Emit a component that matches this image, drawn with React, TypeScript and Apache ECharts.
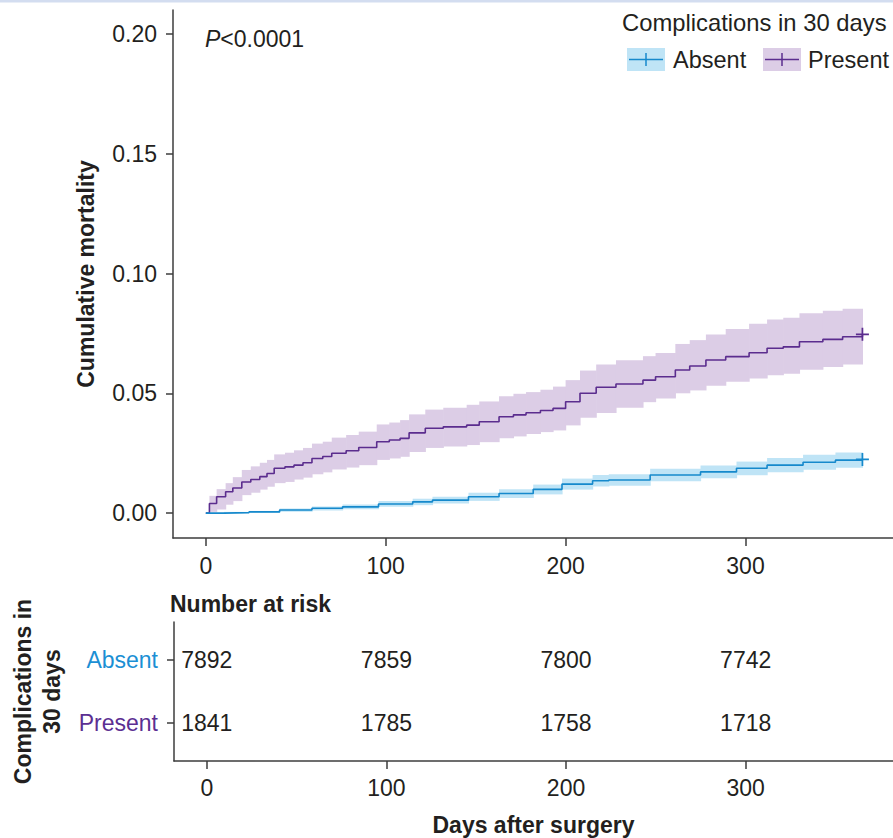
import React, { useEffect, useRef } from "react";
import * as echarts from "echarts";

// ---------- data ----------
const presentDays = [0, 2, 6, 11, 15, 20, 25, 30, 34, 38, 44, 49, 54, 59, 65, 70, 78, 85, 95, 102, 108, 113, 122, 132, 145, 152, 163, 171, 178, 186, 193, 200, 208, 217, 228, 243, 250, 261, 269, 278, 289, 302, 312, 321, 330, 343, 354, 365];
const presentEst = [0, 0.004, 0.0068, 0.0089, 0.0105, 0.013, 0.014, 0.0152, 0.0165, 0.0187, 0.0193, 0.02, 0.021, 0.0228, 0.0236, 0.025, 0.026, 0.0274, 0.0298, 0.0305, 0.0312, 0.0335, 0.0354, 0.036, 0.0367, 0.0381, 0.0402, 0.041, 0.0419, 0.0428, 0.0437, 0.0465, 0.05, 0.0525, 0.0539, 0.0555, 0.0569, 0.0597, 0.0614, 0.0639, 0.0653, 0.0669, 0.0688, 0.0694, 0.0715, 0.0725, 0.0736, 0.0746];
const presentLo = [0, 0.0005, 0.0015, 0.0035, 0.005, 0.0075, 0.0085, 0.0098, 0.011, 0.0125, 0.013, 0.014, 0.0148, 0.0162, 0.017, 0.0182, 0.019, 0.02, 0.0222, 0.0228, 0.0235, 0.0255, 0.0272, 0.0278, 0.0284, 0.0296, 0.0312, 0.032, 0.033, 0.0338, 0.0345, 0.0366, 0.0398, 0.0418, 0.044, 0.0463, 0.0478, 0.05, 0.0512, 0.0532, 0.0548, 0.0562, 0.0575, 0.0582, 0.0598, 0.061, 0.062, 0.0627];
const presentHi = [0, 0.0072, 0.01, 0.0125, 0.015, 0.018, 0.0195, 0.021, 0.0222, 0.0245, 0.0252, 0.0262, 0.0272, 0.029, 0.0298, 0.0315, 0.0326, 0.034, 0.037, 0.0378, 0.0388, 0.0412, 0.0432, 0.044, 0.0452, 0.0466, 0.0488, 0.0498, 0.0505, 0.0515, 0.0528, 0.0555, 0.0595, 0.062, 0.0638, 0.0655, 0.0668, 0.0706, 0.0722, 0.0745, 0.0768, 0.079, 0.0808, 0.0815, 0.0834, 0.0845, 0.0853, 0.086];

const absentDays = [0, 10, 24, 41, 59, 76, 96, 115, 126, 146, 163, 182, 198, 215, 224, 247, 275, 295, 312, 332, 350, 365];
const absentEst = [0, 0.0002, 0.0005, 0.0013, 0.002, 0.0026, 0.0038, 0.0047, 0.0054, 0.0068, 0.0082, 0.0099, 0.0121, 0.0135, 0.0138, 0.0159, 0.0172, 0.0187, 0.02, 0.0212, 0.0221, 0.0224];
const absentLo = [0, 0, 0.0001, 0.0006, 0.0011, 0.0016, 0.0026, 0.0033, 0.004, 0.0051, 0.0063, 0.0078, 0.0098, 0.0111, 0.0114, 0.0133, 0.0145, 0.0158, 0.017, 0.0181, 0.0189, 0.0192];
const absentHi = [0, 0.0005, 0.0009, 0.0019, 0.0028, 0.0036, 0.005, 0.006, 0.0068, 0.0085, 0.01, 0.0119, 0.0144, 0.0159, 0.0162, 0.0185, 0.0199, 0.0215, 0.023, 0.0243, 0.0253, 0.0257];

const xTicks = [0, 100, 200, 300];
const yTicks = [0, 0.05, 0.1, 0.15, 0.2];
const riskGroups = ["Absent", "Present"];
const riskTimes = [0, 100, 200, 300];
const riskAbsent = [7892, 7859, 7800, 7742];
const riskPresent = [1841, 1785, 1758, 1718];

// ---------- styles ----------
const FONT = "'Liberation Sans', Arial, Helvetica, sans-serif";
const TXT = "#231f20";
const AXIS = "#3c3c3c";
const ABS_LINE = "#1689cc";
const ABS_BAND = "#bfe4f6";
const PRE_LINE = "#5b2d8e";
const PRE_BAND = "#dccde6";
const ABS_TEXT = "#1b8fd4";
const PRE_TEXT = "#5c2f92";

const PLUS = "path://M-0.8,-6H0.8V6H-0.8Z M-6,-0.8H6V0.8H-6Z";

// band segments: [x_start, x_end, lo, hi], each a step of the confidence band
const bandSegments = (days: number[], lo: number[], hi: number[]) =>
  days.slice(0, -1).map((d, i) => [d, days[i + 1], lo[i], hi[i]]);

const bandRender = (fill: string) => (params: any, api: any) => {
  const p1 = api.coord([api.value(0), api.value(3)]);
  const p2 = api.coord([api.value(1), api.value(2)]);
  return {
    type: "rect",
    shape: { x: p1[0], y: p1[1], width: p2[0] - p1[0] + 0.6, height: Math.max(p2[1] - p1[1], 0.5) },
    style: { fill },
  };
};

export default function App() {
  const ref = useRef<HTMLDivElement>(null);
  useEffect(() => {
    if (!ref.current) return;
    const chart = echarts.init(ref.current, undefined, { renderer: "svg" });

    const axisLine = { show: true, onZero: false, lineStyle: { color: AXIS, width: 1.5 } };
    const tickStyle = { color: AXIS, width: 1.5 };
    const pair = (xs: number[], ys: number[]) => xs.map((x, i) => [x, ys[i]]);

    const riskData: any[] = [];
    riskTimes.forEach((t, i) => {
      riskData.push([t, 1, riskAbsent[i]]);
      riskData.push([t, 0, riskPresent[i]]);
    });

    const option: any = {
      animation: false,
      textStyle: { fontFamily: FONT },
      graphic: [
        { type: "rect", z: 100, shape: { x: 0, y: 0, width: 893, height: 2.5 }, style: { fill: "#d3ddf0" } },
        {
          type: "text", z: 100, x: 205, y: 39,
          style: {
            text: "{i|P}{n|<0.0001}", verticalAlign: "middle", fill: TXT,
            rich: {
              i: { fontStyle: "italic", fontSize: 23, fontFamily: FONT, fill: TXT },
              n: { fontSize: 23, fontFamily: FONT, fill: TXT },
            },
          },
        },
        { type: "text", z: 100, x: 622, y: 22, style: { text: "Complications in 30 days", fontSize: 23.8, fontFamily: FONT, fill: TXT, verticalAlign: "middle" } },
        { type: "rect", z: 100, shape: { x: 627, y: 48, width: 38, height: 23 }, style: { fill: ABS_BAND } },
        { type: "line", z: 101, shape: { x1: 629, y1: 59.5, x2: 663, y2: 59.5 }, style: { stroke: ABS_LINE, lineWidth: 1.5 } },
        { type: "line", z: 101, shape: { x1: 646, y1: 53, x2: 646, y2: 66 }, style: { stroke: ABS_LINE, lineWidth: 1.5 } },
        { type: "text", z: 100, x: 673, y: 59.5, style: { text: "Absent", fontSize: 23.5, fontFamily: FONT, fill: TXT, verticalAlign: "middle" } },
        { type: "rect", z: 100, shape: { x: 763, y: 48, width: 38, height: 23 }, style: { fill: PRE_BAND } },
        { type: "line", z: 101, shape: { x1: 765, y1: 59.5, x2: 799, y2: 59.5 }, style: { stroke: PRE_LINE, lineWidth: 1.5 } },
        { type: "line", z: 101, shape: { x1: 782, y1: 53, x2: 782, y2: 66 }, style: { stroke: PRE_LINE, lineWidth: 1.5 } },
        { type: "text", z: 100, x: 808, y: 59.5, style: { text: "Present", fontSize: 23.5, fontFamily: FONT, fill: TXT, verticalAlign: "middle" } },
        { type: "text", z: 100, x: 170, y: 604, style: { text: "Number at risk", fontSize: 23, fontWeight: "bold", fontFamily: FONT, fill: TXT, verticalAlign: "middle" } },
      ],
      grid: [
        { left: 173, right: 0, top: 10, height: 528 },
        { left: 173, right: 0, top: 622, height: 139 },
      ],
      xAxis: [
        {
          gridIndex: 0, type: "value", min: -18.25, max: 382,
          axisLine, splitLine: { show: false },
          axisTick: { show: true, length: 8, customValues: xTicks, lineStyle: tickStyle },
          axisLabel: { customValues: xTicks, margin: 16, fontSize: 23, color: TXT, fontFamily: FONT },
        },
        {
          gridIndex: 1, type: "value", min: -18.25, max: 382,
          axisLine, splitLine: { show: false },
          axisTick: { show: true, length: 8, customValues: xTicks, lineStyle: tickStyle },
          axisLabel: { customValues: xTicks, margin: 15, fontSize: 23, color: TXT, fontFamily: FONT },
          name: "Days after surgery", nameLocation: "middle", nameGap: 52,
          nameTextStyle: { fontSize: 23, fontWeight: "bold", color: TXT, fontFamily: FONT },
        },
      ],
      yAxis: [
        {
          gridIndex: 0, type: "value", min: -0.0104, max: 0.21,
          axisLine, splitLine: { show: false },
          axisTick: { show: true, length: 7, customValues: yTicks, lineStyle: tickStyle },
          axisLabel: { customValues: yTicks, margin: 16, fontSize: 23, color: TXT, fontFamily: FONT, formatter: (v: number) => v.toFixed(2) },
          name: "Cumulative mortality", nameLocation: "middle", nameGap: 76, nameRotate: 90,
          nameTextStyle: { fontSize: 23, fontWeight: "bold", color: TXT, fontFamily: FONT },
        },
        {
          gridIndex: 1, type: "value", min: -0.61, max: 1.61,
          axisLine, splitLine: { show: false },
          axisTick: { show: true, length: 7, customValues: [0, 1], lineStyle: tickStyle },
          axisLabel: {
            customValues: [0, 1], margin: 16, fontSize: 23, fontFamily: FONT,
            formatter: (v: number) => (v === 1 ? `{a|${riskGroups[0]}}` : v === 0 ? `{p|${riskGroups[1]}}` : ""),
            rich: {
              a: { color: ABS_TEXT, fontSize: 23, fontFamily: FONT },
              p: { color: PRE_TEXT, fontSize: 23, fontFamily: FONT },
            },
          },
          name: "Complications in\n30 days", nameLocation: "middle", nameGap: 108, nameRotate: 90,
          nameTextStyle: { fontSize: 23, fontWeight: "bold", color: TXT, fontFamily: FONT, lineHeight: 29, align: "center" },
        },
      ],
      series: [
        {
          type: "custom", name: "PresentBand", xAxisIndex: 0, yAxisIndex: 0, silent: true, z: 1,
          data: bandSegments(presentDays, presentLo, presentHi), renderItem: bandRender(PRE_BAND),
          encode: { x: [0, 1], y: [2, 3] },
        },
        {
          type: "custom", name: "AbsentBand", xAxisIndex: 0, yAxisIndex: 0, silent: true, z: 1,
          data: bandSegments(absentDays, absentLo, absentHi), renderItem: bandRender(ABS_BAND),
          encode: { x: [0, 1], y: [2, 3] },
        },
        {
          type: "line", name: "Present", xAxisIndex: 0, yAxisIndex: 0, step: "end",
          data: pair(presentDays, presentEst), symbol: "none", lineStyle: { color: PRE_LINE, width: 1.6 }, z: 3,
        },
        {
          type: "line", name: "Absent", xAxisIndex: 0, yAxisIndex: 0, step: "end",
          data: pair(absentDays, absentEst), symbol: "none", lineStyle: { color: ABS_LINE, width: 1.6 }, z: 3,
        },
        {
          type: "scatter", xAxisIndex: 0, yAxisIndex: 0, symbol: PLUS, symbolSize: 13, z: 4,
          itemStyle: { opacity: 1 },
          data: [
            { value: [presentDays[presentDays.length - 1], presentEst[presentEst.length - 1]], itemStyle: { color: PRE_LINE } },
            { value: [absentDays[absentDays.length - 1], absentEst[absentEst.length - 1]], itemStyle: { color: ABS_LINE } },
          ],
        },
        {
          type: "scatter", xAxisIndex: 1, yAxisIndex: 1, symbolSize: 0, data: riskData,
          itemStyle: { opacity: 1 },
          label: {
            show: true, position: "inside", fontSize: 23, color: TXT, opacity: 1, fontFamily: FONT,
            formatter: (p: any) => String(p.value[2]),
          },
        },
      ],
    };
    chart.setOption(option);
    return () => chart.dispose();
  }, []);
  return <div ref={ref} style={{ position: "fixed", left: 0, top: 0, width: 893, height: 838, background: "#fff" }} />;
}
